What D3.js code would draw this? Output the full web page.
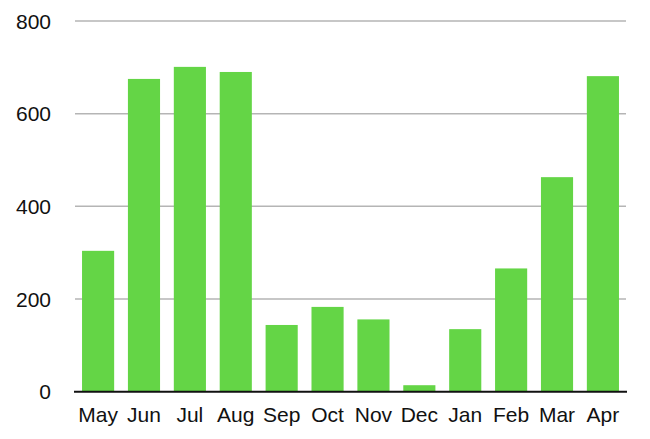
<!DOCTYPE html>
<html>
<head>
<meta charset="utf-8">
<script src="https://cdn.jsdelivr.net/npm/d3@7"></script>
<style>
  body { margin: 0; background: #fff; }
  text { font-family: "Liberation Sans", Arial, sans-serif; }
</style>
</head>
<body>
<svg id="chart"></svg>
<script>
// month categories and values
var months = ["May", "Jun", "Jul", "Aug", "Sep", "Oct", "Nov", "Dec", "Jan", "Feb", "Mar", "Apr"];
var values = [304, 675, 701, 690, 144, 183, 156, 14, 135, 266, 463, 681];
var yTicks = [0, 200, 400, 600, 800];

var width = 650, height = 439;
var svg = d3.select("#chart").attr("width", width).attr("height", height);

var x = d3.scaleBand()
  .domain(months)
  .range([74, 627])
  .paddingInner(0.3)
  .paddingOuter(0.175);

var y = d3.scaleLinear()
  .domain([0, 800])
  .range([391.7, 21]);

// gridlines
svg.append("g").selectAll("line")
  .data(yTicks.filter(function(d){ return d > 0; }))
  .enter().append("line")
  .attr("x1", 75).attr("x2", 626)
  .attr("y1", function(d){ return y(d); })
  .attr("y2", function(d){ return y(d); })
  .attr("stroke", "#b5b5b5")
  .attr("stroke-width", 1.5);

// y labels
svg.append("g").selectAll("text")
  .data(yTicks)
  .enter().append("text")
  .attr("x", 51)
  .attr("y", function(d){ return y(d); })
  .attr("dy", "0.36em")
  .attr("text-anchor", "end")
  .attr("font-size", 21)
  .attr("fill", "#111")
  .text(function(d){ return d; });

// bars
svg.append("g").selectAll("rect")
  .data(values)
  .enter().append("rect")
  .attr("x", function(d, i){ return x(months[i]); })
  .attr("width", x.bandwidth())
  .attr("y", function(d){ return y(d); })
  .attr("height", function(d){ return y(0) - y(d); })
  .attr("fill", "#64d546");

// baseline
svg.append("line")
  .attr("x1", 74).attr("x2", 627)
  .attr("y1", y(0)).attr("y2", y(0))
  .attr("stroke", "#111")
  .attr("stroke-width", 2);

// month labels
svg.append("g").selectAll("text")
  .data(months)
  .enter().append("text")
  .attr("x", function(d){ return x(d) + x.bandwidth() / 2; })
  .attr("y", 422)
  .attr("text-anchor", "middle")
  .attr("font-size", 21)
  .attr("fill", "#111")
  .text(function(d){ return d; });
</script>
</body>
</html>
